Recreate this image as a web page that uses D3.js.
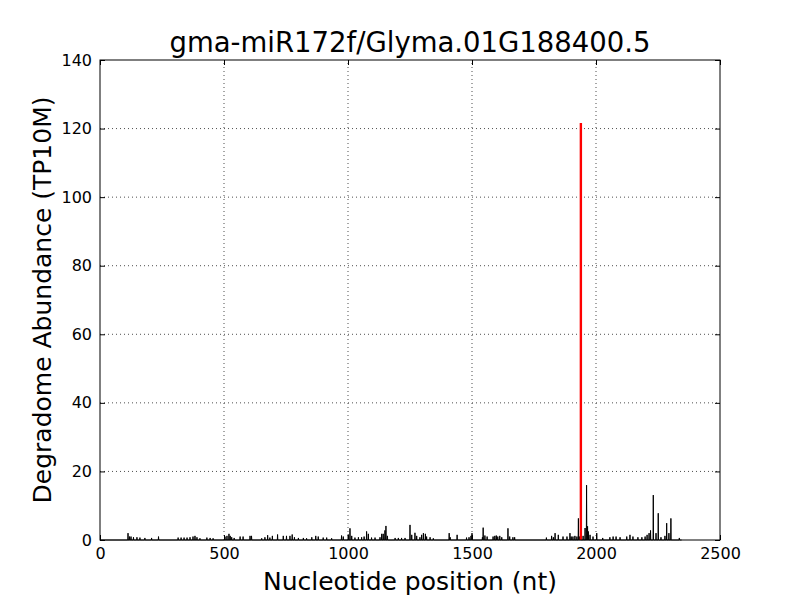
<!DOCTYPE html>
<html>
<head>
<meta charset="utf-8">
<script src="https://cdn.jsdelivr.net/npm/d3@7"></script>
<style>
  body { margin: 0; background: #fff; }
  text { font-family: "DejaVu Sans", sans-serif; }
</style>
</head>
<body>
<svg id="chart" width="800" height="600"></svg>
<script>
const title = "gma-miR172f/Glyma.01G188400.5";
const xLabel = "Nucleotide position (nt)";
const yLabel = "Degradome Abundance (TP10M)";
const xTicks = [0, 500, 1000, 1500, 2000, 2500];
const yTicks = [0, 20, 40, 60, 80, 100, 120, 140];
const transcriptLength = 2345;

// Degradome tag positions (nt) and abundances (TP10M)
const tagPositions = [113,119,125,135,149,161,181,208,236,315,327,339,351,363,375,383,391,403,431,444,456,
  504,512,520,525,531,541,565,577,605,611,652,665,676,685,695,716,739,752,766,775,784,800,820,833,854,870,880,900,914,
  934,974,981,1001,1008,1015,1028,1042,1055,1065,1075,1082,1095,1109,1129,1136,1142,1149,1153,1159,1190,1203,1216,1230,
  1250,1257,1270,1277,1290,1297,1304,1312,1317,1331,1344,
  1408,1412,1440,1478,1488,1496,1500,1542,1545,1552,1561,1585,1592,1598,1604,1612,1620,1645,1652,1665,1672,
  1800,1821,1828,1835,1848,1867,1883,1895,1900,1907,1915,1923,1929,1934,1939,1948,1956,1962,1966,1969,1976,1988,
  2003,2027,2056,2069,2081,2097,2124,2137,2149,2169,2185,2198,2206,2214,2220,2231,2242,2251,2262,2278,2285,2294,2302,2336];
const tagValues = [2.0,1.0,1.0,0.8,0.8,0.7,0.6,0.6,1.0,0.7,0.7,0.7,0.7,0.8,1.0,1.2,0.8,0.5,0.7,0.6,0.5,
  1.0,1.2,1.8,1.2,0.8,0.6,1.0,1.0,1.2,1.2,0.5,0.8,1.4,0.7,1.2,1.6,1.2,1.2,1.2,1.6,0.8,0.6,0.6,0.5,0.8,1.2,1.0,0.7,0.7,
  0.5,1.3,1.0,1.6,3.4,1.2,0.7,0.8,0.8,1.0,2.5,1.8,0.7,0.7,0.8,1.8,1.8,2.8,4.1,1.2,0.6,0.6,0.6,0.6,
  4.4,1.5,2.1,1.2,0.8,1.5,2.0,1.8,1.0,0.8,0.5,
  2.0,0.8,1.5,0.7,0.8,1.2,2.0,0.8,3.6,1.3,1.0,1.0,1.2,1.3,1.0,1.2,0.8,3.4,1.0,0.8,0.8,
  0.7,1.2,0.8,2.0,1.5,1.0,1.0,2.0,1.0,1.0,1.2,1.0,6.3,1.0,121.6,1.2,3.5,16.0,4.0,2.5,1.5,1.0,
  2.0,0.6,0.8,1.0,1.0,0.8,1.0,1.5,1.0,0.8,0.8,1.0,1.5,2.0,2.8,13.1,2.0,7.8,0.8,1.2,4.9,2.0,6.3,0.6];

// Cleavage site highlighted in red
const sitePosition = [1939];
const siteValue = [121.6];

const margin = {left: 100, right: 80, top: 60, bottom: 60};
const W = 800, H = 600;
const svg = d3.select("#chart");

const x = d3.scaleLinear().domain([0, 2500]).range([margin.left, W - margin.right]);
const y = d3.scaleLinear().domain([0, 140]).range([H - margin.bottom, margin.top]);

// full per-nucleotide series (zero where no tag)
const valueMap = new Map(tagPositions.map((p, i) => [p, tagValues[i]]));
const series = d3.range(1, transcriptLength + 1).map(p => [p, valueMap.get(p) || 0]);

// grid
const grid = svg.append("g");
grid.selectAll("line.gx").data(xTicks.slice(1, -1)).join("line")
  .attr("x1", d => x(d)).attr("x2", d => x(d))
  .attr("y1", y(0)).attr("y2", y(140))
  .attr("stroke", "#000").attr("stroke-width", 0.7).attr("stroke-dasharray", "1,3");
grid.selectAll("line.gy").data(yTicks.slice(1, -1)).join("line")
  .attr("y1", d => y(d)).attr("y2", d => y(d))
  .attr("x1", x(0)).attr("x2", x(2500))
  .attr("stroke", "#000").attr("stroke-width", 0.7).attr("stroke-dasharray", "1,3");

// data line
const line = d3.line().x(d => x(d[0])).y(d => y(d[1]));
svg.append("path").datum(series)
  .attr("fill", "none").attr("stroke", "#000").attr("stroke-width", 1)
  .attr("d", line);

// red cleavage line
svg.append("path").datum([[sitePosition[0], 0], [sitePosition[0], siteValue[0]]])
  .attr("fill", "none").attr("stroke", "#ff0000").attr("stroke-width", 2.4)
  .attr("d", line);

// axes (ticks inside on all sides)
const tickLen = 5;
const fmt = d3.format("d");
const axBottom = d3.axisBottom(x).tickValues(xTicks).tickFormat(fmt).tickSizeInner(-tickLen).tickSizeOuter(0).tickPadding(8);
const axTop = d3.axisTop(x).tickValues(xTicks).tickSizeInner(-tickLen).tickSizeOuter(0).tickFormat("");
const axLeft = d3.axisLeft(y).tickValues(yTicks).tickFormat(fmt).tickSizeInner(-tickLen).tickSizeOuter(0).tickPadding(8);
const axRight = d3.axisRight(y).tickValues(yTicks).tickSizeInner(-tickLen).tickSizeOuter(0).tickFormat("");

function styleAxis(g) {
  g.select(".domain").remove();
  g.selectAll(".tick line").attr("stroke", "#000").attr("stroke-width", 1);
  g.selectAll(".tick text").attr("font-family", "DejaVu Sans").attr("font-size", 16).attr("fill", "#000");
}
svg.append("g").attr("transform", `translate(0,${y(0)})`).call(axBottom).call(styleAxis);
svg.append("g").attr("transform", `translate(0,${y(140)})`).call(axTop).call(styleAxis);
svg.append("g").attr("transform", `translate(${x(0)},0)`).call(axLeft).call(styleAxis);
svg.append("g").attr("transform", `translate(${x(2500)},0)`).call(axRight).call(styleAxis);

// frame
svg.append("rect").attr("x", x(0)).attr("y", y(140))
  .attr("width", x(2500) - x(0)).attr("height", y(0) - y(140))
  .attr("fill", "none").attr("stroke", "#000").attr("stroke-width", 1);

// labels
svg.append("text").attr("x", (x(0) + x(2500)) / 2).attr("y", 52)
  .attr("text-anchor", "middle").attr("font-size", 27.5).text(title);
svg.append("text").attr("x", (x(0) + x(2500)) / 2).attr("y", 590)
  .attr("text-anchor", "middle").attr("font-size", 25).text(xLabel);
svg.append("text").attr("transform", `translate(51,${(y(0) + y(140)) / 2}) rotate(-90)`)
  .attr("text-anchor", "middle").attr("font-size", 25).text(yLabel);
</script>
</body>
</html>
